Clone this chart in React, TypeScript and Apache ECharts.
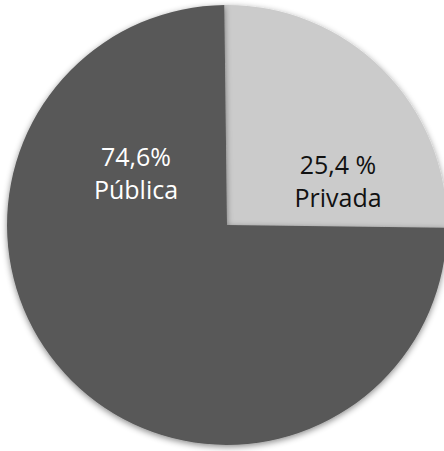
import React, { useEffect, useRef } from "react";
import * as echarts from "echarts";

const categories = ["Privada", "Pública"];
const values = [25.4, 74.6];
const valueLabels = ["25,4 %", "74,6%"];
const colors = ["#cbcbcb", "#595959"];
const labelColors = ["#111111", "#ffffff"];
// label anchor positions (layout only)
const labelAnchors = [
  [338, 180],
  [136, 172],
];

export default function App() {
  const ref = useRef<HTMLDivElement>(null);
  useEffect(() => {
    if (!ref.current) return;
    const chart = echarts.init(ref.current, null, { renderer: "svg" });
    chart.setOption({
      animation: false,
      backgroundColor: "#ffffff",
      series: [
        {
          type: "pie",
          center: [227, 225],
          radius: [0, 220],
          startAngle: 90.7,
          clockwise: true,
          silent: true,
          emphasis: { disabled: true },
          itemStyle: {
            borderWidth: 0,
            shadowBlur: 6,
            shadowColor: "rgba(0,0,0,0.45)",
            shadowOffsetY: 2,
          },
          label: {
            show: true,
            position: "inside",
            fontFamily: "'Open Sans', sans-serif",
            fontSize: 25,
            lineHeight: 33,
            align: "center",
            verticalAlign: "middle",
            formatter: (p: any) => `${valueLabels[p.dataIndex]}\n${p.name}`,
          },
          labelLine: { show: false },
          labelLayout: (p: any) => ({
            x: labelAnchors[p.dataIndex][0],
            y: labelAnchors[p.dataIndex][1],
            align: "center",
            verticalAlign: "middle",
          }),
          data: categories.map((c, i) => ({
            name: c,
            value: values[i],
            itemStyle: { color: colors[i] },
            label: { color: labelColors[i] },
          })),
        },
      ],
    });
    return () => chart.dispose();
  }, []);
  return (
    <div
      ref={ref}
      style={{ position: "fixed", left: 0, top: 0, width: 444, height: 451 }}
    />
  );
}
